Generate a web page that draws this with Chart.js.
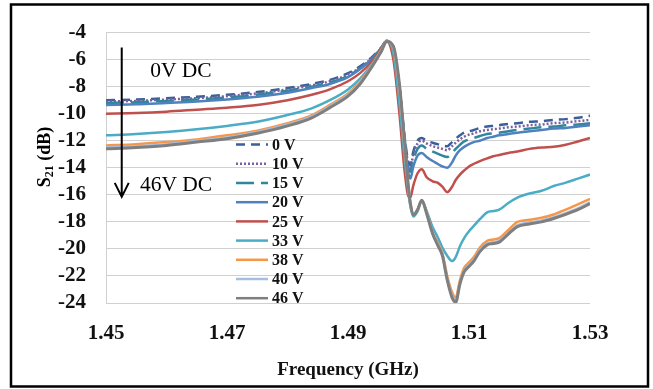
<!DOCTYPE html>
<html>
<head>
<meta charset="utf-8">
<script src="https://cdn.jsdelivr.net/npm/chart.js@4.4.1/dist/chart.umd.min.js"></script>
<style>
  html, body { margin: 0; padding: 0; background: #fff; }
  #wrap { width: 653px; height: 389px; position: relative; }
</style>
</head>
<body>
<div id="wrap"><canvas id="s21Chart"></canvas></div>
<script>
// frequency points (GHz)
const freq = [1.45, 1.455, 1.46, 1.465, 1.47, 1.475, 1.48, 1.484, 1.487, 1.49,
  1.492, 1.494, 1.4955, 1.4964, 1.4975, 1.4985, 1.4993, 1.4999, 1.5003, 1.5008,
  1.5015, 1.5022, 1.503, 1.504, 1.5048, 1.5056, 1.5064, 1.5072, 1.5078, 1.5085,
  1.5092, 1.51, 1.5108, 1.5118, 1.513, 1.514, 1.515, 1.5165, 1.518, 1.52,
  1.522, 1.524, 1.526, 1.528, 1.53];

// S21 (dB) per bias voltage
const s0V = [-9.0, -8.95, -8.85, -8.75, -8.6, -8.4, -8.1, -7.8, -7.5, -7.0,
  -6.5, -5.8, -5.1, -4.6, -5.3, -8.0, -11.5, -13.4, -13.8, -12.8,
  -12.0, -11.8, -12.0, -12.15, -12.25, -12.35, -12.4, -12.1, -11.85, -11.6,
  -11.4, -11.3, -11.2, -11.05, -10.95, -10.9, -10.85, -10.75, -10.7, -10.6,
  -10.55, -10.45, -10.4, -10.3, -10.15];
const s10V = [-9.1, -9.05, -8.95, -8.85, -8.7, -8.5, -8.2, -7.9, -7.6, -7.1,
  -6.6, -5.85, -5.15, -4.6, -5.3, -8.0, -11.6, -13.6, -14.0, -13.0,
  -12.2, -12.0, -12.2, -12.4, -12.5, -12.6, -12.7, -12.4, -12.15, -11.9,
  -11.7, -11.55, -11.45, -11.3, -11.2, -11.15, -11.1, -11.0, -10.95, -10.85,
  -10.8, -10.7, -10.65, -10.55, -10.45];
const s15V = [-9.2, -9.15, -9.05, -8.95, -8.8, -8.6, -8.3, -8.0, -7.7, -7.2,
  -6.65, -5.9, -5.15, -4.6, -5.3, -8.0, -11.7, -13.8, -14.3, -13.4,
  -12.6, -12.35, -12.6, -12.8, -12.95, -13.1, -13.2, -12.9, -12.6, -12.3,
  -12.05, -11.9, -11.8, -11.65, -11.5, -11.45, -11.4, -11.3, -11.2, -11.1,
  -11.0, -10.95, -10.85, -10.8, -10.7];
const s20V = [-9.35, -9.3, -9.2, -9.1, -8.95, -8.75, -8.45, -8.1, -7.8, -7.3,
  -6.7, -5.95, -5.2, -4.6, -5.3, -8.0, -11.8, -14.2, -14.8, -13.9,
  -13.1, -12.9, -13.2, -13.5, -13.7, -13.9, -14.0, -13.6, -13.1, -12.7,
  -12.45, -12.25, -12.1, -12.0, -11.8, -11.7, -11.6, -11.5, -11.4, -11.3,
  -11.2, -11.1, -11.05, -10.95, -10.85];
const s25V = [-10.0, -9.95, -9.85, -9.7, -9.55, -9.35, -9.0, -8.6, -8.2, -7.6,
  -7.0, -6.1, -5.2, -4.65, -6.0, -10.0, -14.0, -16.0, -16.2, -15.3,
  -14.4, -14.1, -14.7, -15.0, -15.1, -15.4, -15.8, -15.4, -14.9, -14.5,
  -14.2, -13.9, -13.7, -13.5, -13.3, -13.15, -13.05, -12.9, -12.8, -12.6,
  -12.5, -12.45, -12.3, -12.05, -11.8];
const s33V = [-11.6, -11.5, -11.35, -11.15, -10.9, -10.6, -10.1, -9.6, -9.0, -8.2,
  -7.4, -6.3, -5.3, -4.65, -5.5, -9.2, -13.0, -15.5, -16.8, -17.6,
  -17.2, -16.4, -17.2, -18.4, -19.1, -19.9, -20.5, -20.9, -20.6, -19.8,
  -19.2, -18.7, -18.3, -17.8, -17.3, -17.2, -17.1, -16.6, -16.2, -15.9,
  -15.7, -15.35, -15.1, -14.8, -14.5];
const s38V = [-12.35, -12.25, -12.1, -11.9, -11.6, -11.25, -10.7, -10.1, -9.35, -8.5,
  -7.6, -6.4, -5.3, -4.65, -5.1, -8.2, -12.2, -15.2, -16.6, -17.5,
  -17.1, -16.4, -17.3, -18.8, -19.5, -20.3, -22.0, -23.2, -23.6, -22.3,
  -21.4, -21.0, -20.6, -19.9, -19.4, -19.3, -19.2, -18.6, -18.0, -17.85,
  -17.7, -17.45, -17.1, -16.7, -16.3];
const s40V = [-12.5, -12.4, -12.25, -12.0, -11.75, -11.35, -10.8, -10.2, -9.45, -8.6,
  -7.7, -6.45, -5.35, -4.65, -5.05, -8.0, -12.0, -15.1, -16.6, -17.5,
  -17.1, -16.4, -17.35, -18.85, -19.6, -20.4, -22.2, -23.45, -23.8, -22.5,
  -21.6, -21.2, -20.8, -20.1, -19.6, -19.5, -19.4, -18.8, -18.25, -18.05,
  -17.9, -17.65, -17.35, -17.0, -16.55];
const s46V = [-12.6, -12.5, -12.35, -12.1, -11.85, -11.45, -10.9, -10.3, -9.55, -8.7,
  -7.8, -6.5, -5.4, -4.65, -5.0, -7.8, -11.8, -15.0, -16.6, -17.5,
  -17.1, -16.4, -17.4, -18.9, -19.7, -20.5, -22.3, -23.6, -23.95, -22.6,
  -21.7, -21.3, -20.9, -20.2, -19.7, -19.6, -19.5, -18.9, -18.35, -18.15,
  -18.0, -17.75, -17.45, -17.1, -16.65];

const seriesLabels = ['0 V', '10 V', '15 V', '20 V', '25 V', '33 V', '38 V', '40 V', '46 V'];
const seriesValues = [s0V, s10V, s15V, s20V, s25V, s33V, s38V, s40V, s46V];
const seriesColors = ['#3A5F9A', '#7B5FA0', '#31859C', '#4F81BD', '#C0504D',
  '#4BACC6', '#F79646', '#A7BEDE', '#7F7F7F'];
const seriesDash = [[9, 6], [2, 2], [18, 7], [], [], [], [], [], []];

const xTicks = [1.45, 1.47, 1.49, 1.51, 1.53];
const yTicks = [-24, -22, -20, -18, -16, -14, -12, -10, -8, -6, -4];

const serif = '"Liberation Serif", "Times New Roman", serif';

const datasets = seriesLabels.map((lab, i) => ({
  label: lab,
  data: freq.map((f, k) => ({ x: f, y: seriesValues[i][k] })),
  borderColor: seriesColors[i],
  borderDash: seriesDash[i],
  borderWidth: i === 8 ? 3 : 2.5,
  pointRadius: 0,
  fill: false,
  cubicInterpolationMode: 'monotone',
  order: seriesLabels.length - i
}));

// frame, legend, arrow note and y title
const extras = {
  id: 'extras',
  afterDraw(chart) {
    const ctx = chart.ctx;
    const xs = chart.scales.x, ys = chart.scales.y;
    const area = chart.chartArea;
    ctx.save();

    // outer frame
    ctx.strokeStyle = '#000';
    ctx.lineWidth = 2.5;
    ctx.strokeRect(11, 4.5, 637, 382);

    // legend inside plot
    ctx.font = 'bold 16px ' + serif;
    ctx.textBaseline = 'middle';
    ctx.textAlign = 'left';
    datasets.forEach((ds, i) => {
      const y = area.top + 112 + i * 19.2;
      const x0 = area.left + 130;
      ctx.strokeStyle = ds.borderColor;
      ctx.lineWidth = 2.5;
      ctx.setLineDash(ds.borderDash);
      ctx.beginPath();
      ctx.moveTo(x0, y);
      ctx.lineTo(x0 + 32, y);
      ctx.stroke();
      ctx.setLineDash([]);
      ctx.fillStyle = '#111';
      ctx.fillText(ds.label, x0 + 36, y + 1);
    });

    // arrow 0V -> 46V
    const ax = xs.getPixelForValue(1.4526);
    const ay0 = ys.getPixelForValue(-5.1);
    const ay1 = ys.getPixelForValue(-16.15);
    ctx.strokeStyle = '#000';
    ctx.lineWidth = 2;
    ctx.beginPath();
    ctx.moveTo(ax, ay0);
    ctx.lineTo(ax, ay1);
    ctx.moveTo(ax - 7, ay1 - 14);
    ctx.lineTo(ax, ay1);
    ctx.lineTo(ax + 7, ay1 - 14);
    ctx.stroke();

    ctx.fillStyle = '#000';
    ctx.textBaseline = 'middle';
    ctx.font = '21.5px ' + serif;
    ctx.fillText('0V DC', xs.getPixelForValue(1.4573), ys.getPixelForValue(-6.85));
    ctx.fillText('46V DC', xs.getPixelForValue(1.4556), ys.getPixelForValue(-15.3));

    // y axis title with subscript
    ctx.translate(45, 157);
    ctx.rotate(-Math.PI / 2);
    const fMain = 'bold 18px ' + serif;
    const fSub = 'bold 12px ' + serif;
    ctx.font = fMain;
    const wS = ctx.measureText('S').width;
    const wT = ctx.measureText(' (dB)').width;
    ctx.font = fSub;
    const w21 = ctx.measureText('21').width;
    let x = -(wS + w21 + wT) / 2;
    ctx.textAlign = 'left';
    ctx.textBaseline = 'middle';
    ctx.font = fMain;
    ctx.fillText('S', x, 0);
    x += wS;
    ctx.font = fSub;
    ctx.fillText('21', x, 5);
    x += w21;
    ctx.font = fMain;
    ctx.fillText(' (dB)', x, 0);
    ctx.restore();
  }
};

const ctx = document.getElementById('s21Chart').getContext('2d');
new Chart(ctx, {
  type: 'line',
  data: { datasets: datasets },
  options: {
    responsive: true,
    maintainAspectRatio: false,
    animation: false,
    layout: { padding: { left: 0, right: 63, top: 28, bottom: 0 } },
    plugins: {
      legend: { display: false },
      tooltip: { enabled: false }
    },
    scales: {
      x: {
        type: 'linear',
        min: 1.45,
        max: 1.53,
        afterBuildTicks: (s) => { s.ticks = xTicks.map(v => ({ value: v })); },
        afterFit: (s) => { s.height = 86; },
        grid: { display: false, drawTicks: false },
        border: { display: false },
        ticks: {
          autoSkip: false,
          maxRotation: 0,
          padding: 18,
          color: '#111',
          font: { family: serif, size: 21, weight: 'bold' },
          callback: (v) => Number(v).toFixed(2)
        },
        title: {
          display: true,
          text: 'Frequency (GHz)',
          color: '#111',
          font: { family: serif, size: 19, weight: 'bold' },
          padding: { top: 0, bottom: 8 }
        }
      },
      y: {
        min: -24,
        max: -4,
        afterBuildTicks: (s) => { s.ticks = yTicks.map(v => ({ value: v })); },
        afterFit: (s) => { s.width = 106; },
        grid: { color: '#D0D0D0', lineWidth: 1, drawTicks: false },
        border: { display: true, color: '#D0D0D0' },
        ticks: {
          autoSkip: false,
          padding: 20,
          color: '#111',
          font: { family: serif, size: 21, weight: 'bold' }
        }
      }
    }
  },
  plugins: [extras]
});
</script>
</body>
</html>
